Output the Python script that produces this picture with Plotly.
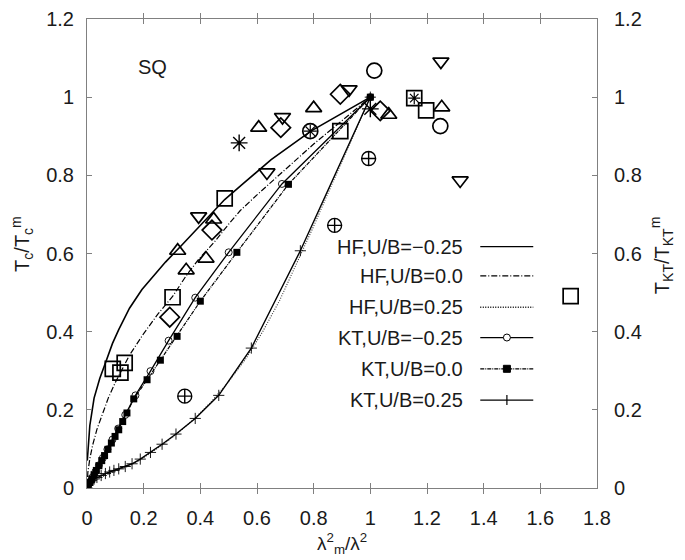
import plotly.graph_objects as go

# ---------------- data ----------------
hf_m025_x = [0.001, 0.004, 0.01, 0.025, 0.045, 0.065, 0.09, 0.112, 0.15, 0.194, 0.24, 0.277, 0.33, 0.40, 0.486, 0.55, 0.65, 0.79, 0.90, 1.0]
hf_m025_y = [0.07, 0.11, 0.16, 0.23, 0.28, 0.32, 0.37, 0.405, 0.46, 0.508, 0.548, 0.578, 0.618, 0.672, 0.738, 0.778, 0.84, 0.913, 0.958, 1.0]

hf_0_x = [0.0, 0.003, 0.01, 0.02, 0.035, 0.05, 0.075, 0.10, 0.118, 0.15, 0.20, 0.25, 0.302, 0.35, 0.394, 0.45, 0.50, 0.541, 0.60, 0.70, 0.80, 0.90, 1.0]
hf_0_y = [0.0, 0.04, 0.075, 0.11, 0.15, 0.18, 0.23, 0.27, 0.295, 0.34, 0.395, 0.445, 0.49, 0.543, 0.585, 0.63, 0.675, 0.71, 0.75, 0.815, 0.88, 0.94, 1.0]

hf_p025_x = [0.0, 0.01, 0.03, 0.06, 0.10, 0.14, 0.18, 0.22, 0.27, 0.32, 0.38, 0.44, 0.50, 0.56, 0.62, 0.68, 0.74, 0.80, 0.86, 0.93, 1.0]
hf_p025_y = [0.0, 0.009, 0.019, 0.031, 0.043, 0.054, 0.068, 0.087, 0.112, 0.14, 0.178, 0.222, 0.272, 0.33, 0.40, 0.48, 0.575, 0.67, 0.77, 0.885, 1.0]

kt_m025_x = [0.0, 0.005, 0.012, 0.02, 0.03, 0.042, 0.056, 0.072, 0.09, 0.11, 0.135, 0.171, 0.224, 0.288, 0.382, 0.5, 0.688, 1.0]
kt_m025_y = [0.0, 0.008, 0.017, 0.028, 0.042, 0.058, 0.077, 0.099, 0.124, 0.152, 0.187, 0.237, 0.299, 0.377, 0.487, 0.603, 0.778, 1.0]

kt_0_x = [0.0, 0.004, 0.01, 0.017, 0.025, 0.033, 0.042, 0.052, 0.062, 0.074, 0.086, 0.099, 0.112, 0.126, 0.141, 0.165, 0.212, 0.259, 0.318, 0.4, 0.529, 0.711, 1.0]
kt_0_y = [0.0, 0.006, 0.014, 0.023, 0.034, 0.045, 0.057, 0.07, 0.083, 0.099, 0.115, 0.132, 0.149, 0.17, 0.192, 0.228, 0.277, 0.327, 0.388, 0.478, 0.603, 0.777, 1.0]

kt_p025_x = [0.0, 0.003, 0.008, 0.015, 0.025, 0.035, 0.05, 0.065, 0.08, 0.095, 0.112, 0.135, 0.159, 0.188, 0.224, 0.265, 0.314, 0.382, 0.465, 0.58, 0.753, 1.0]
kt_p025_y = [0.0, 0.008, 0.014, 0.019, 0.023, 0.027, 0.032, 0.037, 0.041, 0.045, 0.049, 0.055, 0.062, 0.074, 0.091, 0.112, 0.138, 0.178, 0.237, 0.358, 0.607, 1.0]

tri_up_x = [0.32, 0.42, 0.35, 0.447, 0.606, 0.80, 1.065, 1.252]
tri_up_y = [0.607, 0.587, 0.557, 0.687, 0.922, 0.972, 0.955, 0.974]

tri_dn_x = [0.394, 0.635, 0.69, 0.925, 1.249, 1.317]
tri_dn_y = [0.695, 0.8075, 0.949, 1.02, 1.091, 0.787]

diam_x = [0.441, 0.292, 0.684, 0.894, 1.035]
diam_y = [0.66, 0.437, 0.922, 1.0075, 0.965]

sq_x = [0.486, 0.302, 0.091, 0.133, 0.118, 0.894, 1.197, 1.707]
sq_y = [0.741, 0.488, 0.305, 0.32, 0.295, 0.913, 0.966, 0.491]

circ_x = [1.014, 1.247]
circ_y = [1.068, 0.926]

ast_x = [0.537, 1.0]
ast_y = [0.883, 0.97]

cplus_x = [0.994, 0.874, 0.345]
cplus_y = [0.843, 0.672, 0.235]

circ_ast_x = [0.788]
circ_ast_y = [0.913]

sq_ast_x = [1.155]
sq_ast_y = [0.9975]

legend_labels = ["HF,U/B=\u22120.25", "HF,U/B=0.0", "HF,U/B=0.25",
                 "KT,U/B=\u22120.25", "KT,U/B=0.0", "KT,U/B=0.25"]
legend_rows_y = [0.6175, 0.5425, 0.4625, 0.385, 0.305, 0.225]

x_ticks = [0, 0.2, 0.4, 0.6, 0.8, 1, 1.2, 1.4, 1.6, 1.8]
y_ticks = [0, 0.2, 0.4, 0.6, 0.8, 1, 1.2]

BLACK = "black"
FONT = "Liberation Sans, Arial, Helvetica, sans-serif"
TXT = "#1a1a1a"
AX = "#808080"
DASHDOT = "6px,2px,1px,2px"
FINEDASH = "4px,1px,1px,1px"
DOTTED = "1px,1.5px"

fig = go.Figure()

# curves
fig.add_trace(go.Scatter(x=hf_m025_x, y=hf_m025_y, mode="lines", line=dict(color=BLACK, width=1.6),
                         showlegend=False))
fig.add_trace(go.Scatter(x=hf_0_x, y=hf_0_y, mode="lines", line=dict(color=BLACK, width=1.2, dash=DASHDOT),
                         showlegend=False))
fig.add_trace(go.Scatter(x=hf_p025_x, y=hf_p025_y, mode="lines", line=dict(color="#333", width=1.1, dash=DOTTED),
                         showlegend=False))
fig.add_trace(go.Scatter(x=kt_m025_x, y=kt_m025_y, mode="lines+markers", line=dict(color=BLACK, width=1.3),
                         marker=dict(symbol="circle-open", size=7, color=BLACK, line=dict(width=0.9)),
                         showlegend=False))
fig.add_trace(go.Scatter(x=kt_0_x, y=kt_0_y, mode="lines+markers", line=dict(color=BLACK, width=1.2, dash=FINEDASH),
                         marker=dict(symbol="square", size=7, color=BLACK),
                         showlegend=False))
fig.add_trace(go.Scatter(x=kt_p025_x, y=kt_p025_y, mode="lines+markers", line=dict(color=BLACK, width=1.4),
                         marker=dict(symbol="cross-thin-open", size=8, color=BLACK, line=dict(width=0.9, color=BLACK)),
                         showlegend=False))

# scattered symbols
def sym(xs, ys, symbol, size, lw=1.7, yaxis="y"):
    fig.add_trace(go.Scatter(x=xs, y=ys, mode="markers", yaxis=yaxis,
                             marker=dict(symbol=symbol, size=size, color=BLACK,
                                         line=dict(width=lw, color=BLACK)),
                             showlegend=False))

sym(tri_up_x, tri_up_y, "triangle-up-open", 14)
sym(tri_dn_x, tri_dn_y, "triangle-down-open", 14)
sym(diam_x, diam_y, "diamond-open", 15)
sym(sq_x, sq_y, "square-open", 15)
sym(circ_x, circ_y, "circle-open", 15, yaxis="y2")
sym(ast_x, ast_y, "asterisk-open", 14, lw=1.4)
sym(cplus_x, cplus_y, "circle-cross-open", 14, lw=1.4)
sym(circ_ast_x, circ_ast_y, "circle-open", 15)
sym(circ_ast_x, circ_ast_y, "asterisk-open", 11, lw=1.2)
sym(sq_ast_x, sq_ast_y, "square-open", 15)
sym(sq_ast_x, sq_ast_y, "asterisk-open", 10, lw=1.2)

# manual legend (text on the left, sample on the right)
shapes = []
annotations = []
dashes = ["solid", DASHDOT, DOTTED, "solid", FINEDASH, "solid"]
x_txt = 1.335
x_l0, x_l1, x_m = 1.388, 1.575, 1.482
for lab, yy, d in zip(legend_labels, legend_rows_y, dashes):
    annotations.append(dict(x=x_txt, y=yy, xref="x", yref="y", text=lab, showarrow=False,
                            xanchor="right", yanchor="middle",
                            font=dict(family=FONT, size=20, color=TXT)))
    shapes.append(dict(type="line", xref="x", yref="y", x0=x_l0, x1=x_l1, y0=yy, y1=yy,
                       line=dict(color=BLACK, width=1.3, dash=d)))
# legend marker samples
shapes.append(dict(type="circle", xref="x", yref="y", xsizemode="pixel", ysizemode="pixel",
                   xanchor=x_m, yanchor=legend_rows_y[3], x0=-3.5, x1=3.5, y0=-3.5, y1=3.5,
                   fillcolor="white", line=dict(color=BLACK, width=1)))
shapes.append(dict(type="rect", xref="x", yref="y", xsizemode="pixel", ysizemode="pixel",
                   xanchor=x_m, yanchor=legend_rows_y[4], x0=-3.5, x1=3.5, y0=-3.5, y1=3.5,
                   fillcolor=BLACK, line=dict(color=BLACK, width=1)))
shapes.append(dict(type="line", xref="x", yref="y", xsizemode="pixel", ysizemode="pixel",
                   xanchor=x_m, yanchor=legend_rows_y[5], x0=0, x1=0, y0=-5, y1=5,
                   line=dict(color=BLACK, width=1.2)))

# SQ label
annotations.append(dict(x=0.23, y=1.078, xref="x", yref="y", text="SQ", showarrow=False,
                        xanchor="center", yanchor="middle", font=dict(family=FONT, size=20, color=TXT)))
# axis titles
annotations.append(dict(x=-0.127, y=0.521, xref="paper", yref="paper",
                        text="T<sub>c</sub>/T<sub>c</sub><sup>m</sup>", textangle=-90, showarrow=False,
                        xanchor="center", yanchor="middle", font=dict(family=FONT, size=20, color=TXT)))
annotations.append(dict(x=1.127, y=0.496, xref="paper", yref="paper",
                        text="T<sub>KT</sub>/T<sub>KT</sub><sup>m</sup>", textangle=-90, showarrow=False,
                        xanchor="center", yanchor="middle", font=dict(family=FONT, size=20, color=TXT)))
annotations.append(dict(x=0.5, y=-0.118, xref="paper", yref="paper",
                        text="\u03bb<sup>2</sup><sub>m</sub>/\u03bb<sup>2</sup>", showarrow=False,
                        xanchor="center", yanchor="middle", font=dict(family=FONT, size=19, color=TXT)))

axis_common = dict(showgrid=False, zeroline=False, showline=True, linecolor=AX, linewidth=1,
                   ticks="inside", ticklen=5, tickcolor=AX, tickwidth=1, mirror="allticks",
                   ticklabeloverflow="allow",
                   tickfont=dict(family=FONT, size=20, color=TXT))

fig.update_layout(
    width=685, height=560,
    margin=dict(l=87, r=88, t=8, b=72),
    paper_bgcolor="white", plot_bgcolor="white",
    font=dict(family=FONT, size=20, color=TXT),
    xaxis=dict(range=[0, 1.8], tickvals=x_ticks, ticklabelstandoff=12, **axis_common),
    yaxis=dict(range=[0, 1.2], tickvals=y_ticks, ticklabelstandoff=8, **axis_common),
    yaxis2=dict(range=[0, 1.2], tickvals=y_ticks, overlaying="y", side="right", showgrid=False,
                zeroline=False, showline=False, ticks="", ticklabelstandoff=16,
                ticklabeloverflow="allow",
                tickfont=dict(family=FONT, size=20, color=TXT)),
    shapes=shapes, annotations=annotations,
)

fig.write_html("out.html", config={"displayModeBar": False},
               post_script="document.body.style.margin='0';")
